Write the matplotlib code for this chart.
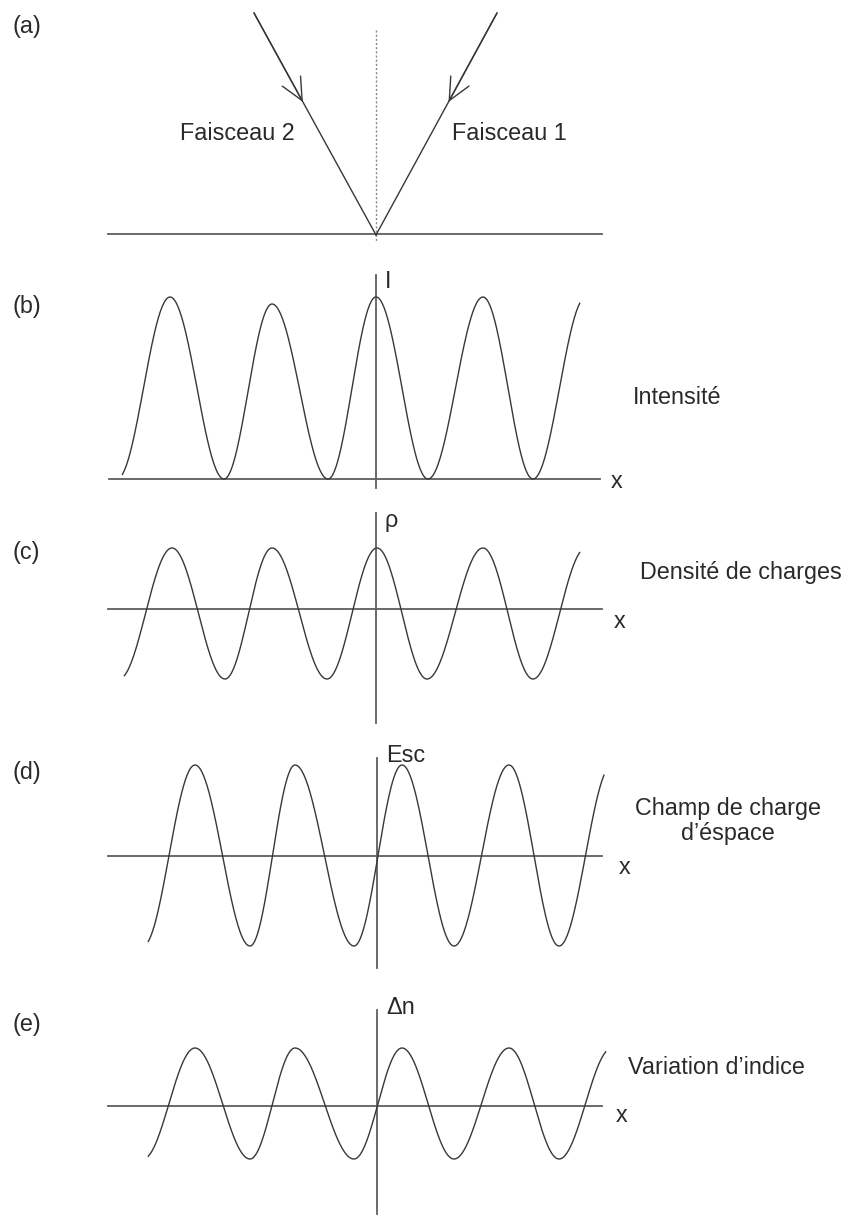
import numpy as np
import matplotlib
matplotlib.use('Agg')
import matplotlib.pyplot as plt

plt.rcParams['font.family'] = ['Liberation Sans', 'DejaVu Sans']

W, H = 848, 1217

# (a) faisceaux incidents (pixels)
beam2_x = [254, 376]
beam2_y = [13, 235]
beam1_x = [497, 376]
beam1_y = [13, 235]
arrow_tip_y = 102
normal_y = [30, 241]
surface_x = [108, 602]
surface_y = 234

# extrema des courbes (b)-(e): abscisses et ordonnees en pixels
b_ext_x = [117, 170, 224, 272, 328, 376, 428, 483, 533, 586]
b_ext_y = [479, 297, 479, 304, 479, 297, 479, 297, 479, 297]
c_ext_x = [119, 172, 225, 272, 327, 377, 427, 483, 533, 586]
c_ext_y = [679, 548, 679, 548, 679, 548, 679, 548, 679, 548]
d_ext_x = [143, 195, 250, 295, 354, 402, 454, 509, 559, 612]
d_ext_y = [946, 765, 946, 765, 946, 765, 946, 765, 946, 765]
e_ext_x = [143, 195, 250, 295, 354, 402, 454, 509, 559, 612]
e_ext_y = [1159, 1048, 1159, 1048, 1159, 1048, 1159, 1048, 1159, 1048]
spans = [(122, 580), (124, 580), (148, 604), (148, 606)]

# axes de chaque panneau
axis_y = [479, 609, 856, 1106]
axis_x0 = [109, 108, 108, 108]
axis_x1 = [600, 602, 602, 602]
vaxis_x = [376, 376, 377, 377]
vaxis_top = [275, 513, 758, 1010]
vaxis_bot = [488, 723, 968, 1214]
vaxis_labels = ['I', 'ρ', 'Esc', 'Δn']
vlabel_y = [281, 521, 755, 1008]
xlabel_pos = [(611, 481), (614, 621), (619, 867), (616, 1116)]

panel_labels = ['(a)', '(b)', '(c)', '(d)', '(e)']
panel_label_y = [27, 307, 553, 773, 1025]

names = ['Intensité', 'Densité de charges', 'Champ de charge\nd\u2019éspace', 'Variation d\u2019indice']
name_pos = [(633, 397), (640, 573), (728, 821), (628, 1067)]
name_ha = ['left', 'left', 'center', 'left']

CURVE = '#383838'
AXIS = '#5e5e5e'
TXT = '#2a2a2a'
FS = 16.8


def wave(ext_x, ext_y, span):
    # demi-periodes en cosinus entre deux extrema successifs
    xs, ys = [], []
    for i in range(len(ext_x) - 1):
        t = np.linspace(0, 1, 60)
        xs.append(ext_x[i] + t * (ext_x[i + 1] - ext_x[i]))
        ys.append(ext_y[i] + (ext_y[i + 1] - ext_y[i]) * (1 - np.cos(np.pi * t)) / 2)
    xs = np.concatenate(xs)
    ys = np.concatenate(ys)
    keep = (xs >= span[0]) & (xs <= span[1])
    return xs[keep], ys[keep]


fig = plt.figure(figsize=(W / 100, H / 100), dpi=100)
ax = fig.add_axes([0, 0, 1, 1])
ax.set_xlim(0, W)
ax.set_ylim(H, 0)
ax.axis('off')

# panneau (a)
ax.plot(surface_x, [surface_y, surface_y], color=AXIS, lw=1.3)
ax.plot([beam2_x[1], beam2_x[1]], normal_y, color='#888888', lw=1.0, ls=(0, (1.5, 1.5)))
for bx, by in [(beam2_x, beam2_y), (beam1_x, beam1_y)]:
    ax.plot(bx, by, color=CURVE, lw=1.0)
    tip_x = np.interp(arrow_tip_y, by, bx)
    ax.annotate('', xy=(tip_x, arrow_tip_y), xytext=(bx[0], by[0]),
                arrowprops=dict(arrowstyle='->,head_length=1.6,head_width=0.75',
                                color=CURVE, lw=1.0, shrinkA=0, shrinkB=0,
                                mutation_scale=10))
ax.text(295, 133, 'Faisceau 2', ha='right', va='center', fontsize=FS, color=TXT)
ax.text(452, 133, 'Faisceau 1', ha='left', va='center', fontsize=FS, color=TXT)

# panneaux (b) a (e)
exts = [(b_ext_x, b_ext_y), (c_ext_x, c_ext_y), (d_ext_x, d_ext_y), (e_ext_x, e_ext_y)]
for k, (ex, ey) in enumerate(exts):
    ax.plot([axis_x0[k], axis_x1[k]], [axis_y[k], axis_y[k]], color=AXIS, lw=1.3)
    ax.plot([vaxis_x[k], vaxis_x[k]], [vaxis_top[k], vaxis_bot[k]], color=AXIS, lw=1.3)
    xs, ys = wave(ex, ey, spans[k])
    ax.plot(xs, ys, color=CURVE, lw=1.0)
    ax.text(vaxis_x[k] + 9, vlabel_y[k], vaxis_labels[k], ha='left', va='center',
            fontsize=FS, color=TXT)
    ax.text(xlabel_pos[k][0], xlabel_pos[k][1], 'x', ha='left', va='center',
            fontsize=FS, color=TXT)
    ax.text(name_pos[k][0], name_pos[k][1], names[k], ha=name_ha[k], va='center',
            fontsize=FS, color=TXT, linespacing=1.15, multialignment='center')

for lab, ly in zip(panel_labels, panel_label_y):
    ax.text(12, ly, lab, ha='left', va='center', fontsize=FS, color=TXT)

fig.savefig('out.png', dpi=100)
